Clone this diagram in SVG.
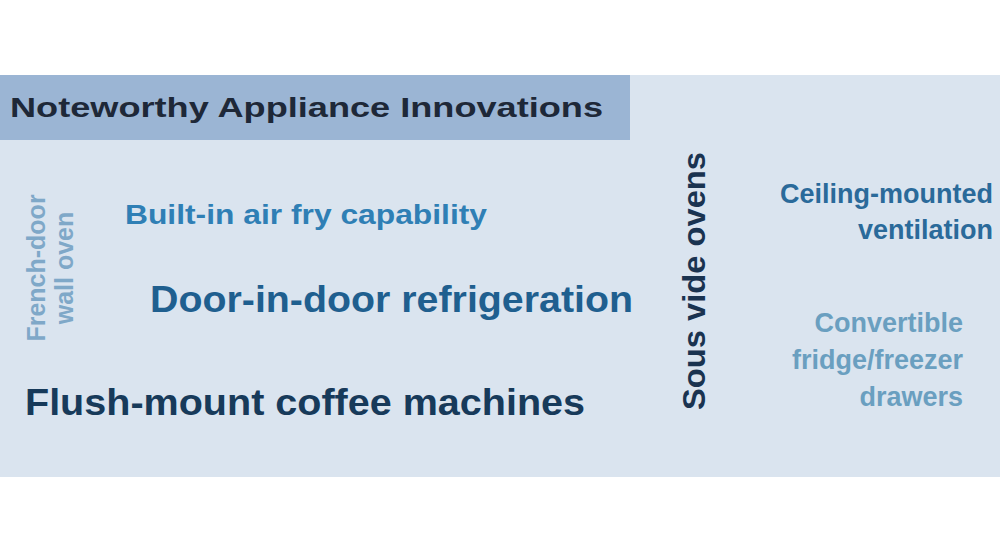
<svg xmlns="http://www.w3.org/2000/svg" width="1000" height="550" viewBox="0 0 1000 550">
<style>
text{font-family:"Liberation Sans",Arial,sans-serif;font-weight:bold}
</style>
<rect width="1000" height="550" fill="#ffffff"/>
<rect x="0" y="75" width="1000" height="402" fill="#dae4ef"/>
<rect x="0" y="75" width="630" height="65" fill="#9bb5d4"/>
<g id="title"><text x="10" y="117" font-size="28" fill="#1e2838" textLength="593" lengthAdjust="spacingAndGlyphs">Noteworthy Appliance Innovations</text></g>
<g id="airfry"><text x="125" y="224" font-size="27" fill="#2f7fb5" textLength="362" lengthAdjust="spacingAndGlyphs">Built-in air fry capability</text></g>
<g id="door"><text x="150" y="312" font-size="36" fill="#1f5f8f" textLength="483" lengthAdjust="spacingAndGlyphs">Door-in-door refrigeration</text></g>
<g id="flush"><text x="25" y="415" font-size="37" fill="#173a5a" textLength="560" lengthAdjust="spacingAndGlyphs">Flush-mount coffee machines</text></g>
<g id="french" transform="translate(0,268) rotate(-90)" fill="#7fa8c8" font-size="25">
<text x="0" y="45" text-anchor="middle">French-door</text>
<text x="0" y="73" text-anchor="middle">wall oven</text>
</g>
<g id="sous"><text transform="translate(705,281) rotate(-90)" x="0" y="0" font-size="31" fill="#1a3350" text-anchor="middle" textLength="258" lengthAdjust="spacingAndGlyphs">Sous vide ovens</text></g>
<g id="ceiling" fill="#2a6a9a" font-size="27" text-anchor="end">
<text x="993" y="203">Ceiling-mounted</text>
<text x="993" y="239">ventilation</text>
</g>
<g id="convertible" fill="#6a9fc0" font-size="27" text-anchor="end">
<text x="963" y="332">Convertible</text>
<text x="963" y="369">fridge/freezer</text>
<text x="963" y="406">drawers</text>
</g>
<g id="connectors"/>
</svg>
